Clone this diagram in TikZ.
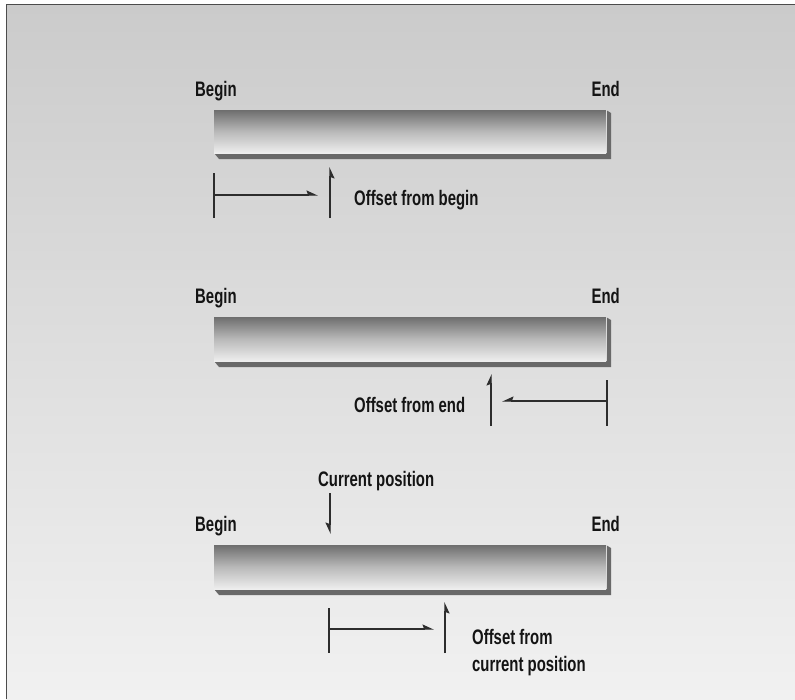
\documentclass[tikz,border=0pt]{standalone}
\usepackage{fontspec}
\newfontfamily\labfont{Liberation Sans}[FakeStretch=0.71]
\usetikzlibrary{arrows.meta}
\definecolor{bgtop}{RGB}{203,203,203}
\definecolor{bgbot}{RGB}{241,241,241}
\definecolor{bartop}{RGB}{110,110,110}
\definecolor{barmid}{RGB}{185,185,185}
\definecolor{barbot}{RGB}{238,238,238}
\definecolor{shadowc}{RGB}{105,105,105}
\definecolor{inkc}{RGB}{20,20,20}
\definecolor{linec}{RGB}{45,45,45}
\tikzset{
  lab/.style={font=\labfont\bfseries\fontsize{21}{24}\selectfont, text=inkc, inner sep=0pt, anchor=base west},
  ln/.style={draw=linec, line width=1.3pt},
  hp/.style={ln, -{Stealth[harpoon, length=10pt, width=9pt, inset=1.5pt]}},
  hps/.style={ln, -{Stealth[harpoon, swap, length=10pt, width=9pt, inset=1.5pt]}},
}
\newcommand{\drawbar}[2]{% #1 = top y, #2 = bottom y
  \fill[shadowc] (214,#2) -- (219,#2+6) -- (611,#2+6) -- (611,#1+3) -- (606,#1) -- cycle;
  \shade[top color=bartop, bottom color=barbot, middle color=barmid] (214,#1) rectangle (606,#2);
  \draw[white!85!black, line width=0.6pt] (606,#1) -- (606,#2);
}
\begin{document}
\begin{tikzpicture}[x=1pt, y=-1pt]
\useasboundingbox (0,0) rectangle (795,699);
\fill[white] (0,0) rectangle (795,699);
\shade[top color=bgtop, bottom color=bgbot] (6,4) rectangle (795,699);
\draw[draw=black!70, line width=1.5pt] (6.5,699) -- (6.5,4.5) -- (795,4.5);

% ---------- diagram 1 ----------
\drawbar{110}{153}
\node[lab] (beg1) at (195,96) {Begin};
\node[lab, anchor=base east] (end1) at (620,96) {End};
\coordinate (t1a) at (214,173);
\coordinate (t1b) at (214,218);
\coordinate (h1a) at (214,195);
\coordinate (h1b) at (318,195);
\coordinate (v1a) at (330,218);
\coordinate (v1b) at (330,167);
\draw[ln] (t1a) -- (t1b);
\draw[hp] (h1a) -- (h1b);
\draw[hps] (v1a) -- (v1b);
\node[lab] (off1) at (354,205) {Offset from begin};

% ---------- diagram 2 ----------
\drawbar{317}{361}
\node[lab] (beg2) at (195,303) {Begin};
\node[lab, anchor=base east] (end2) at (620,303) {End};
\coordinate (t2a) at (607,380);
\coordinate (t2b) at (607,426);
\coordinate (h2a) at (607,401);
\coordinate (h2b) at (502,401);
\coordinate (v2a) at (491,426);
\coordinate (v2b) at (491,374);
\draw[ln] (t2a) -- (t2b);
\draw[hps] (h2a) -- (h2b);
\draw[hp] (v2a) -- (v2b);
\node[lab] (off2) at (354,412) {Offset from end};

% ---------- diagram 3 ----------
\drawbar{545}{589}
\node[lab] (beg3) at (195,531) {Begin};
\node[lab, anchor=base east] (end3) at (620,531) {End};
\node[lab] (cur) at (318,486) {Current position};
\coordinate (c3a) at (330,493);
\coordinate (c3b) at (330,534);
\draw[hps] (c3a) -- (c3b);
\coordinate (t3a) at (329,608);
\coordinate (t3b) at (329,653);
\coordinate (h3a) at (329,629);
\coordinate (h3b) at (434,629);
\coordinate (v3a) at (445,653);
\coordinate (v3b) at (445,602);
\draw[ln] (t3a) -- (t3b);
\draw[hp] (h3a) -- (h3b);
\draw[hps] (v3a) -- (v3b);
\node[lab] (off3a) at (472,644) {Offset from};
\node[lab] (off3b) at (472,671) {current position};
\end{tikzpicture}
\end{document}
